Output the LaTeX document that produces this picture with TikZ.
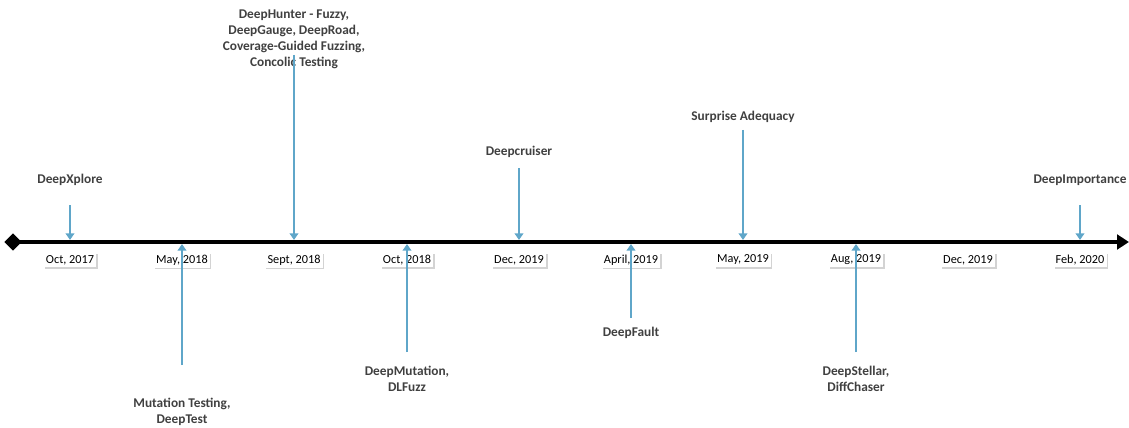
\documentclass[tikz,border=0pt]{standalone}
\usepackage{fontspec}
\setmainfont{Carlito}
\usepackage{tikz}
\usetikzlibrary{arrows.meta,shapes.geometric,shadows}
\definecolor{evblue}{HTML}{5FA6C9}
\definecolor{txtgrey}{HTML}{404040}
\tikzset{
	datebox/.style={fill=white, inner sep=1.8pt, font=\fontsize{9.2}{11}\selectfont, text=black,
		drop shadow={shadow xshift=1pt, shadow yshift=-1.2pt, opacity=0.35}},
	evlabel/.style={align=center, font=\fontsize{10}{12}\selectfont\bfseries, text=txtgrey},
	evarrow/.style={line width=2.2pt, color=evblue, -{Triangle[length=5pt,width=6.5pt]}},
}

\begin{document}
\begin{tikzpicture}[x=0.75pt, y=-0.75pt]
			%%%%% START %%%%%
			\useasboundingbox (0, 0) rectangle (1129, 428);
			
			% time axis
			\node[diamond, fill=black, inner sep=0pt, minimum size=13pt] (start) at (13, 242) {};
			\coordinate (stop) at (1129, 242);
			\draw[line width=3.2pt, -{Triangle[length=9pt,width=11pt]}] (start.center) -- (stop);
			
			% dates below the axis
			\node[datebox] (d1) at (70, 260) {Oct, 2017};
			\node[datebox] (d2) at (182, 260) {May, 2018};
			\node[datebox] (d3) at (294, 260) {Sept, 2018};
			\node[datebox] (d4) at (407, 260) {Oct, 2018};
			\node[datebox] (d5) at (519, 260) {Dec, 2019};
			\node[datebox] (d6) at (631, 260) {April, 2019};
			\node[datebox] (d7) at (743, 260) {May, 2019};
			\node[datebox] (d8) at (856, 260) {Aug, 2019};
			\node[datebox] (d9) at (968, 260) {Dec, 2019};
			\node[datebox] (d10) at (1080, 260) {Feb, 2020};
			
			% events above the axis
			\node[evlabel] (xplore) at (70, 180) {DeepXplore};
			\coordinate (xploreA) at (70, 205);
			\coordinate (xploreB) at (70, 240);
			\draw[evarrow] (xploreA) -- (xploreB);
			
			\node[evlabel] (hunter) at (294, 39) {DeepHunter - Fuzzy,\\DeepGauge, DeepRoad,\\Coverage-Guided Fuzzing,\\Concolic Testing};
			\coordinate (hunterA) at (294, 55);
			\coordinate (hunterB) at (294, 240);
			\draw[evarrow] (hunterA) -- (hunterB);
			
			\node[evlabel] (cruiser) at (519, 152) {Deepcruiser};
			\coordinate (cruiserA) at (519, 168);
			\coordinate (cruiserB) at (519, 240);
			\draw[evarrow] (cruiserA) -- (cruiserB);
			
			\node[evlabel] (surprise) at (743, 117) {Surprise Adequacy};
			\coordinate (surpriseA) at (743, 130);
			\coordinate (surpriseB) at (743, 240);
			\draw[evarrow] (surpriseA) -- (surpriseB);
			
			\node[evlabel] (importance) at (1080, 180) {DeepImportance};
			\coordinate (importanceA) at (1080, 205);
			\coordinate (importanceB) at (1080, 240);
			\draw[evarrow] (importanceA) -- (importanceB);
			
			% events below the axis
			\node[evlabel] (mutation) at (182, 412) {Mutation Testing,\\DeepTest};
			\coordinate (mutationA) at (182, 365);
			\coordinate (mutationB) at (182, 244);
			\draw[evarrow] (mutationA) -- (mutationB);
			
			\node[evlabel] (dmutation) at (407, 379) {DeepMutation,\\DLFuzz};
			\coordinate (dmutationA) at (407, 352);
			\coordinate (dmutationB) at (407, 244);
			\draw[evarrow] (dmutationA) -- (dmutationB);
			
			\node[evlabel] (fault) at (631, 333) {DeepFault};
			\coordinate (faultA) at (631, 318);
			\coordinate (faultB) at (631, 244);
			\draw[evarrow] (faultA) -- (faultB);
			
			\node[evlabel] (stellar) at (856, 379) {DeepStellar,\\DiffChaser};
			\coordinate (stellarA) at (856, 352);
			\coordinate (stellarB) at (856, 244);
			\draw[evarrow] (stellarA) -- (stellarB);
			
			%%%%% END %%%%%
\end{tikzpicture}
\end{document}
